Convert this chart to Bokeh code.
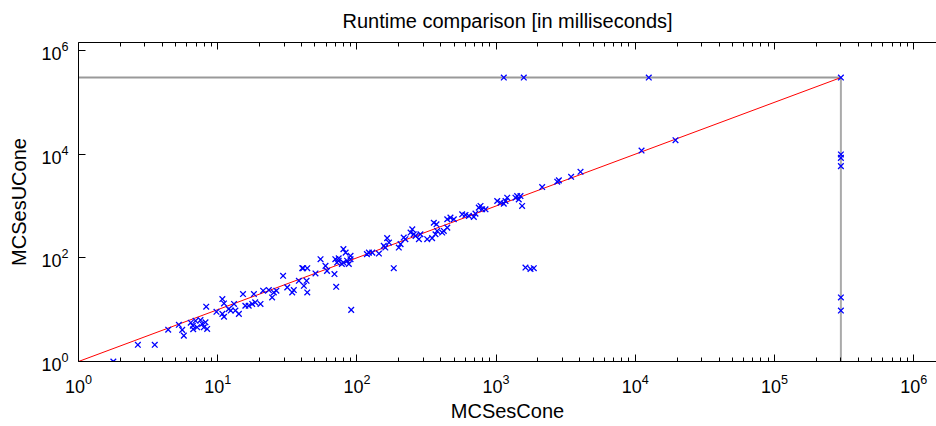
import numpy as np
from bokeh.plotting import figure
from bokeh.models import LogAxis, Range1d, FixedTicker, LogTickFormatter, ColumnDataSource
from bokeh.embed import file_html
from bokeh.resources import INLINE

TIMEOUT = 300000

mcsescone = [
    1.78, 2.67, 3.53, 4.41, 5.26, 5.56, 5.71, 6.63, 6.93, 7.52, 7.95, 8.4, 7.73, 8.27, 6.67,
    7.12, 8.17, 6.4, 9.8, 10.8, 11.1, 10.8, 11.1, 13.1, 12.0, 12.4, 13.4, 14.2, 15.2, 15.8,
    16.7, 17.7, 18.6, 20.3, 18.2, 21.2, 23.3, 25.3, 26.4, 24.6, 29.5, 31.6, 34.3, 35.2, 38.3,
    41.1, 44, 44, 43.5, 50.4, 54.8, 59.5, 61, 70, 74, 80, 85, 90, 87.5, 69, 71, 91, 118, 129,
    40.5, 41.6, 74, 72, 78, 90, 80, 83,
    122, 144, 184, 156, 165, 170, 160, 200, 206, 217, 223, 243, 250, 256, 264, 279, 286,
    320, 347, 367, 377, 357, 373, 410, 421, 446, 446, 470, 497, 571, 603, 637, 692, 711,
    751, 795, 839, 773, 1019, 1076, 1169, 1202, 1135, 1378, 1417, 1497, 1455, 1538,
    2143, 2825, 2750, 3460, 4040, 11090, 19450, 1626, 1767, 1866,
    1136, 1581, 12500, 300000, 300000, 300000, 300000, 300000, 300000,
]
mcsesucone = [
    1.0, 2.1, 2.1, 4.1, 5.1, 4.07, 3.16, 4.9, 6.1, 6.3, 4.57, 4.25, 5.3, 11.4, 4.19,
    4.57, 5.7, 5.6, 9.1, 16, 13.2, 8.3, 7.3, 12.9, 10.3, 9.6, 9.6, 8.3, 20, 11.9,
    11.9, 12.9, 13.8, 12.9, 20, 23.2, 23.9, 21.5, 23.2, 17.2, 45, 26.9, 21.5, 23.9, 36.1,
    63, 63, 21.5, 36, 50, 94, 70, 56, 94, 88, 81, 88, 109, 76, 48.6, 27.6, 9.9, 118, 126,
    63, 28.9, 98, 81, 76, 94, 147, 126,
    126, 121, 63, 170, 240, 197, 158, 158, 184, 246, 229, 307, 355, 285, 265, 229, 285,
    229, 240, 285, 330, 475, 443, 307, 330, 383, 555, 596, 555, 692, 671, 645, 617, 713,
    929, 863, 863, 1000, 1248, 1159, 1248, 1445, 1109, 1445, 1556, 1556, 1343, 1000,
    2317, 3120, 2940, 3660, 4570, 11750, 18600, 65, 61, 63,
    300000, 300000, 300000, 300000, 9860, 8490, 5880, 17.2, 9.6,
]

x_major_ticks = [1, 10, 100, 1000, 10000, 100000, 1000000]
x_minor_ticks = [m * 10 ** d for d in range(0, 7) for m in range(2, 10)]
y_major_ticks = [1, 100, 10000, 1000000]

title_text = "Runtime comparison [in milliseconds]"
x_label = "MCSesCone"
y_label = "MCSesUCone"

FONT = "Liberation Sans"

p = figure(
    width=936, height=426,
    x_axis_type="log", y_axis_type="log",
    x_range=Range1d(1, 10 ** 6.164), y_range=Range1d(1, 10 ** 6.154),
    output_backend="svg", toolbar_location=None,
    min_border_left=78, min_border_right=0, min_border_top=41, min_border_bottom=65,
    title=title_text,
)
p.outline_line_color = None
p.grid.visible = False
p.background_fill_color = "white"
p.border_fill_color = "white"

p.title.align = "center"
p.title.vertical_align = "top"
p.title.text_font = FONT
p.title.text_font_size = "20px"
p.title.text_font_style = "normal"
p.title.text_color = "black"
p.title.standoff = 18

xt = FixedTicker(ticks=x_major_ticks, minor_ticks=x_minor_ticks)
yt = FixedTicker(ticks=y_major_ticks, minor_ticks=[])

def style(ax, ticker, label=True):
    ax.ticker = ticker
    ax.formatter = LogTickFormatter()
    ax.major_tick_in = 7
    ax.major_tick_out = 0
    ax.minor_tick_in = 4
    ax.minor_tick_out = 0
    ax.axis_line_color = "black"
    ax.major_tick_line_color = "black"
    ax.minor_tick_line_color = "black"
    ax.major_label_text_font = FONT
    ax.major_label_text_font_size = "18px"
    ax.major_label_text_color = "black"
    ax.axis_label_text_font = FONT
    ax.axis_label_text_font_size = "20px"
    ax.axis_label_text_font_style = "normal"
    ax.axis_label_text_color = "black"
    if not label:
        ax.major_label_text_font_size = "0px"
        ax.major_label_text_color = None

style(p.xaxis[0], xt)
style(p.yaxis[0], yt)
p.xaxis[0].axis_label = x_label
p.yaxis[0].axis_label = y_label
p.xaxis[0].major_label_standoff = 12
p.xaxis[0].axis_label_standoff = 4
p.yaxis[0].major_label_standoff = 10
p.yaxis[0].axis_label_standoff = 8

top = LogAxis()
style(top, FixedTicker(ticks=x_major_ticks, minor_ticks=x_minor_ticks), label=False)
p.add_layout(top, "above")

xmin = p.x_range.start
ymin = p.y_range.start

# timeout guide lines
p.line([xmin, TIMEOUT], [TIMEOUT, TIMEOUT], line_color="#999999", line_width=2)
p.line([TIMEOUT, TIMEOUT], [ymin, TIMEOUT], line_color="#aaaaaa", line_width=2)
# diagonal y = x
p.line([xmin, TIMEOUT], [ymin, TIMEOUT], line_color="#ff0000", line_width=1)

src = ColumnDataSource(dict(x=mcsescone, y=mcsesucone))
p.scatter("x", "y", source=src, marker="x", size=8, line_color="#0000ff", line_width=1.3)

open("out.html", "w").write(file_html(p, INLINE))
